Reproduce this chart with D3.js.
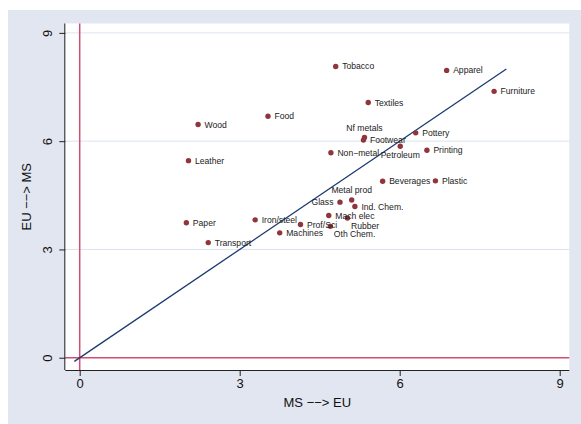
<!DOCTYPE html>
<html>
<head>
<meta charset="utf-8">
<script src="https://cdn.jsdelivr.net/npm/d3@7"></script>
<style>
  html, body { margin: 0; padding: 0; background: #ffffff; }
  svg { display: block; font-family: "Liberation Sans", Arial, Helvetica, sans-serif; }
</style>
</head>
<body>
<svg id="chart" width="581" height="424"></svg>
<script>
// Industry names and trade-flow measures
const industries = [
  "Tobacco", "Apparel", "Furniture", "Textiles", "Food", "Wood", "Pottery",
  "Nf metals", "Footwear", "Petroleum", "Printing", "Non\u2212metal", "Leather",
  "Plastic", "Beverages", "Metal prod", "Glass", "Ind. Chem.", "Mach elec",
  "Rubber", "Iron/steel", "Paper", "Prof/Sci", "Oth Chem.", "Machines", "Transport"
];
// MS --> EU (horizontal axis)
const msToEu = [
  4.80, 6.88, 7.77, 5.41, 3.53, 2.22, 6.30,
  5.34, 5.32, 6.01, 6.51, 4.71, 2.04,
  6.67, 5.68, 5.10, 4.88, 5.16, 4.67,
  5.02, 3.29, 2.00, 4.14, 4.70, 3.75, 2.41
];
// EU --> MS (vertical axis)
const euToMs = [
  8.07, 7.96, 7.38, 7.07, 6.69, 6.46, 6.23,
  6.10, 6.03, 5.86, 5.75, 5.68, 5.46,
  4.90, 4.89, 4.37, 4.31, 4.19, 3.94,
  3.87, 3.82, 3.74, 3.69, 3.64, 3.46, 3.19
];
const xTicks = [0, 3, 6, 9];
const yTicks = [0, 3, 6, 9];
// Reference diagonal end points
const diagFrom = -0.1, diagTo = 8;

// Clock position of each marker label (default 3 o'clock)
const labelClock = { "Nf metals": 12, "Petroleum": 6, "Metal prod": 12, "Glass": 9, "Rubber": 5, "Oth Chem.": 5 };

const svg = d3.select("#chart");
const W = 581, H = 424;
const frame = { left: 65.3, right: 569.3, top: 23.5, bottom: 370 };

// Graph region background
svg.append("rect").attr("x", 8).attr("y", 10).attr("width", W - 8).attr("height", H - 10)
  .attr("fill", "#e1e6f0");
// Plot region
svg.append("rect").attr("x", frame.left).attr("y", frame.top)
  .attr("width", frame.right - frame.left).attr("height", frame.bottom - frame.top)
  .attr("fill", "#ffffff");

const x = d3.scaleLinear().domain([-0.27, 9.18]).range([frame.left, frame.right]);
const y = d3.scaleLinear().domain([-0.34, 9.26]).range([frame.bottom, frame.top]);

// Horizontal grid lines
svg.append("g").selectAll("line").data(yTicks.filter(d => d !== 0)).join("line")
  .attr("x1", frame.left).attr("x2", frame.right)
  .attr("y1", d => y(d)).attr("y2", d => y(d))
  .attr("stroke", "#dce3ee").attr("stroke-width", 1);

// Reference lines at zero
svg.append("line").attr("x1", frame.left).attr("x2", frame.right)
  .attr("y1", y(0)).attr("y2", y(0))
  .attr("stroke", "#cf4f72").attr("stroke-width", 1.5);
svg.append("line").attr("x1", x(0)).attr("x2", x(0))
  .attr("y1", frame.top).attr("y2", frame.bottom)
  .attr("stroke", "#cf4f72").attr("stroke-width", 1.5);

// 45-degree line
svg.append("line").attr("x1", x(diagFrom)).attr("y1", y(diagFrom))
  .attr("x2", x(diagTo)).attr("y2", y(diagTo))
  .attr("stroke", "#1c3a6e").attr("stroke-width", 1.3);

// Axes
const xAxis = d3.axisBottom(x).tickValues(xTicks).tickSize(6).tickPadding(3);
const gx = svg.append("g").attr("transform", `translate(0,${frame.bottom})`).call(xAxis);
gx.select(".domain").attr("d", `M${frame.left},0.5H${frame.right}`).attr("stroke", "#222");
gx.selectAll(".tick line").attr("stroke", "#222");
gx.selectAll(".tick text").attr("font-size", 13).attr("fill", "#111")
  .attr("font-family", "Liberation Sans, Arial, sans-serif");

const yAxis = d3.axisLeft(y).tickValues(yTicks).tickSize(6).tickPadding(3);
const gy = svg.append("g").attr("transform", `translate(${frame.left},0)`).call(yAxis);
gy.select(".domain").attr("d", `M-0.5,${frame.top}V${frame.bottom}`).attr("stroke", "#222");
gy.selectAll(".tick line").attr("stroke", "#222");
gy.selectAll(".tick text")
  .attr("font-size", 13).attr("fill", "#111")
  .attr("font-family", "Liberation Sans, Arial, sans-serif")
  .attr("x", null).attr("dy", null)
  .attr("text-anchor", "middle")
  .attr("transform", "translate(-13,0) rotate(-90)");

// Axis titles
svg.append("text").attr("x", (frame.left + frame.right) / 2).attr("y", 407)
  .attr("text-anchor", "middle").attr("font-size", 13).attr("fill", "#111")
  .text("MS \u2212\u2212> EU");
svg.append("text")
  .attr("transform", `translate(31,${(frame.top + frame.bottom) / 2}) rotate(-90)`)
  .attr("text-anchor", "middle").attr("font-size", 13).attr("fill", "#111")
  .text("EU \u2212\u2212> MS");

// Markers
const pts = industries.map((name, i) => ({ name, mx: msToEu[i], ey: euToMs[i] }));
svg.append("g").selectAll("circle").data(pts).join("circle")
  .attr("cx", d => x(d.mx)).attr("cy", d => y(d.ey)).attr("r", 2.7)
  .attr("fill", "#90353b");

// Marker labels
svg.append("g").selectAll("text").data(pts).join("text")
  .attr("font-size", 8.6).attr("fill", "#222")
  .each(function (d) {
    const t = d3.select(this);
    const cx = x(d.mx), cy = y(d.ey);
    const pos = labelClock[d.name] || 3;
    if (pos === 3) {
      t.attr("x", cx + 6.5).attr("y", cy).attr("dy", "0.35em").attr("text-anchor", "start");
    } else if (pos === 9) {
      t.attr("x", cx - 6.5).attr("y", cy).attr("dy", "0.35em").attr("text-anchor", "end");
    } else if (pos === 12) {
      t.attr("x", cx).attr("y", cy - 7).attr("text-anchor", "middle");
    } else if (pos === 6) {
      t.attr("x", cx).attr("y", cy + 12).attr("text-anchor", "middle");
    } else if (pos === 5) {
      t.attr("x", cx + 3.5).attr("y", cy + 10.8).attr("text-anchor", "start");
    }
    t.text(d.name);
  });
</script>
</body>
</html>
